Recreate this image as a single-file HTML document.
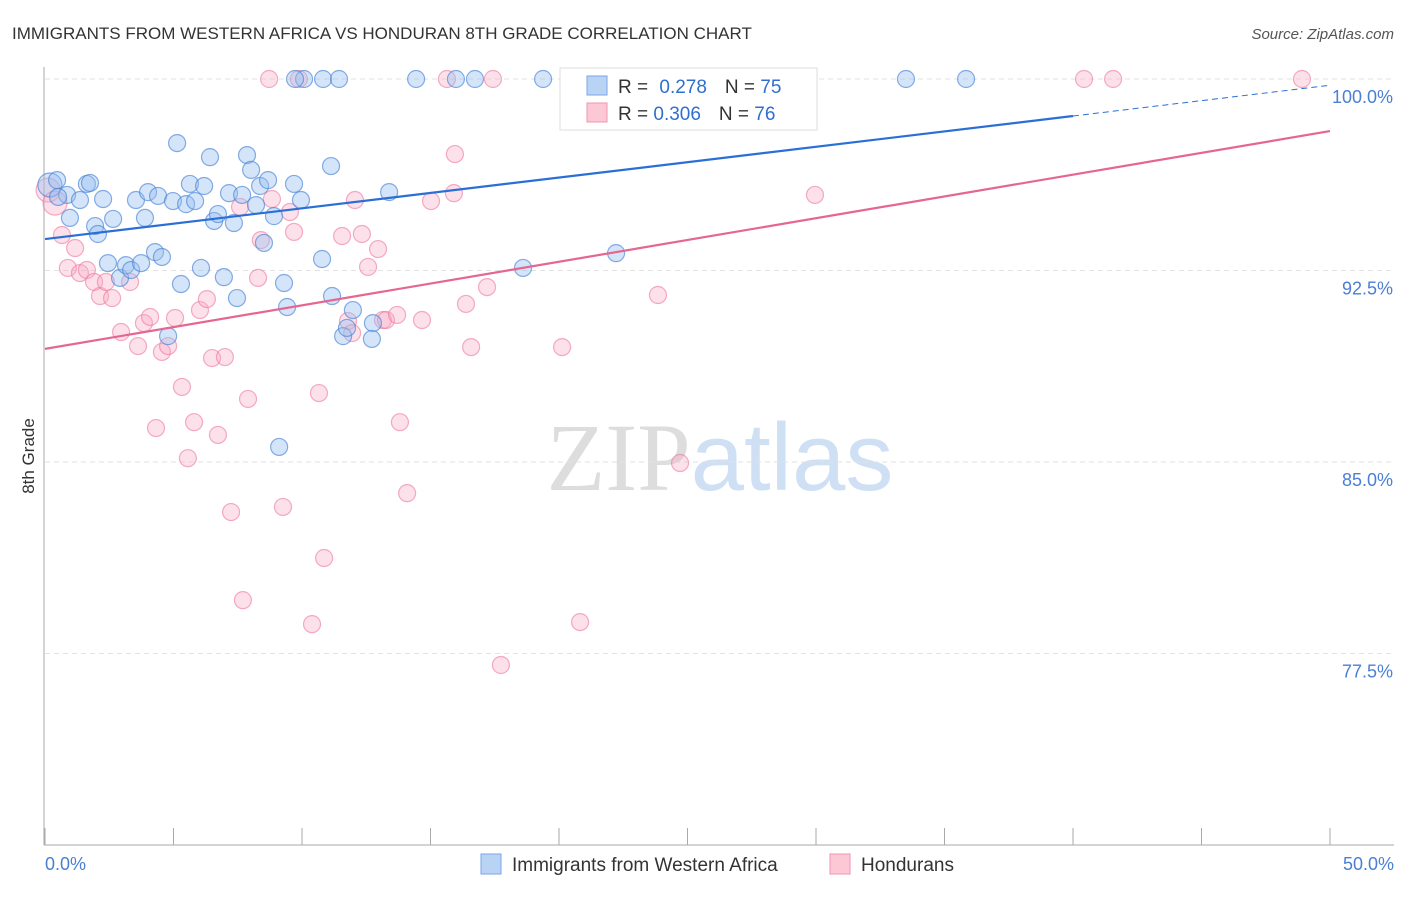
<!DOCTYPE html>
<html><head><meta charset="utf-8"><style>
body{margin:0;background:#fff;font-family:"Liberation Sans",sans-serif;}
svg text{font-family:"Liberation Sans",sans-serif;}
</style></head><body>
<svg id="chart" width="1406" height="892" xmlns="http://www.w3.org/2000/svg">
<text x="12" y="39" font-size="17" fill="#333">IMMIGRANTS FROM WESTERN AFRICA VS HONDURAN 8TH GRADE CORRELATION CHART</text>
<text x="1394" y="39" font-size="15" fill="#555" text-anchor="end" font-style="italic">Source: ZipAtlas.com</text>
<text x="720" y="490" font-size="96" text-anchor="middle"><tspan fill="#ddd" font-family="Liberation Serif">ZIP</tspan><tspan fill="#cfe0f5">atlas</tspan></text>
<g id="grid"></g>
<g id="axes"></g>
<g id="pinkpts"></g>
<g id="bluepts"></g>
<g id="lines"></g>
<text transform="translate(34,456) rotate(-90)" font-size="17" fill="#333" text-anchor="middle">8th Grade</text>
<g>
<rect x="560" y="68" width="257" height="62" fill="#fff" stroke="#ddd"/>
<rect x="587" y="76" width="20" height="19" fill="#b9d3f5" stroke="#7aa6e6"/>
<rect x="587" y="103" width="20" height="19" fill="#fcc8d6" stroke="#f094b0"/>
<text x="618" y="93" font-size="19" fill="#333">R = <tspan fill="#2f6fd0" dx="6">0.278</tspan><tspan fill="#333" dx="18">N = </tspan><tspan fill="#2f6fd0">75</tspan></text>
<text x="618" y="120" font-size="19" fill="#333">R = <tspan fill="#2f6fd0">0.306</tspan><tspan fill="#333" dx="18">N = </tspan><tspan fill="#2f6fd0">76</tspan></text>
</g>
<g>
<rect x="481" y="854" width="20" height="20" fill="#b9d3f5" stroke="#7aa6e6"/>
<text x="512" y="871" font-size="19" fill="#333">Immigrants from Western Africa</text>
<rect x="830" y="854" width="20" height="20" fill="#fcc8d6" stroke="#f094b0"/>
<text x="861" y="871" font-size="19" fill="#333">Hondurans</text>
</g>
</svg>
<script>
const yTicks=[100,92.5,85,77.5];
const yTickLabels=["100.0%","92.5%","85.0%","77.5%"];
const xTickLabels=["0.0%","50.0%"];
const blueX=[0.19,0.47,0.86,0.51,0.97,1.36,1.63,1.75,1.95,2.06,2.26,2.65,2.45,2.92,3.15,3.35,3.54,3.74,3.89,4.01,4.28,4.40,4.55,4.79,4.98,5.14,5.29,5.49,5.64,5.84,6.07,6.19,6.42,6.58,6.73,6.96,7.16,7.35,7.47,7.67,7.86,8.02,8.21,8.37,8.52,8.68,8.91,9.11,9.30,9.42,9.69,9.96,10.08,10.78,11.13,11.17,11.60,11.98,11.75,12.76,12.72,13.39,14.44,15.99,16.73,18.60,19.38,22.22,33.50,35.84,10.82,11.44,9.73];
const blueY=[95.85,96.04,95.46,95.38,94.56,95.26,95.89,95.93,94.24,93.93,95.30,94.52,92.79,92.21,92.71,92.52,95.26,92.79,94.56,95.57,93.22,95.42,93.03,89.93,95.22,97.49,91.97,95.10,95.89,95.22,92.60,95.81,96.94,94.44,94.71,92.24,95.53,94.36,91.42,95.46,97.02,96.44,95.06,95.81,93.58,96.04,94.63,85.59,92.01,91.07,95.89,95.26,100,92.95,96.59,91.50,89.93,90.95,90.25,90.44,89.82,95.57,100,100,100,92.60,100,93.18,100,100,100,100,100];
const pinkX=[0.12,0.39,0.66,0.89,1.17,1.36,1.63,1.91,2.14,2.37,2.61,2.96,3.31,3.62,3.85,4.09,4.32,4.55,4.79,5.06,5.33,5.56,5.80,6.03,6.30,6.50,6.73,7.00,7.24,7.59,7.70,7.90,8.29,8.40,8.83,9.26,9.53,9.69,10.39,10.66,10.86,11.56,11.79,12.06,12.33,12.57,12.96,13.15,13.27,13.70,13.81,14.09,14.67,15.02,15.91,15.95,16.38,16.58,17.20,17.74,20.12,20.82,23.85,24.71,29.96,8.72,9.88,15.64,17.43,40.43,41.56,48.91,11.95];
const pinkY=[95.65,95.14,93.89,92.60,93.38,92.40,92.52,92.05,91.50,92.05,91.42,90.09,92.05,89.54,90.44,90.68,86.33,89.31,89.54,90.64,87.94,85.15,86.56,90.95,91.38,89.07,86.06,89.11,83.04,94.99,79.59,87.47,92.21,93.69,95.30,83.24,94.79,94.01,78.65,87.70,81.24,93.85,90.52,95.26,93.93,92.64,93.34,90.56,90.56,90.76,86.56,83.78,90.56,95.22,95.53,97.06,91.19,89.50,91.85,77.05,89.50,78.73,91.54,84.96,95.46,100,100,100,100,100,100,100,90.05];
const blueTrend=[93.73,0.1205];
const pinkTrend=[89.43,0.1706];
const NS="http://www.w3.org/2000/svg";
const sx=v=>45+v/50*1285;
const sy=v=>79+(100-v)/7.5*191.5;
function mk(tag,attrs,parent){const e=document.createElementNS(NS,tag);for(const k in attrs)e.setAttribute(k,attrs[k]);parent.appendChild(e);return e;}
const grid=document.getElementById('grid'),axes=document.getElementById('axes');
yTicks.forEach((t,i)=>{
 const l=mk('line',{x1:45,x2:1394,y1:sy(t),y2:sy(t),stroke:'#e2e2e2','stroke-dasharray':'5,4'},grid);
 
 
 const tx=mk('text',{x:1393,y:sy(t)+24,'font-size':18,fill:'#4a7fd4','text-anchor':'end'},axes);
 tx.textContent=yTickLabels[i];
 
 
});
const ya=mk('line',{x1:44,x2:44,y1:67,y2:845,stroke:'#aaa'},axes);


const xa=mk('line',{x1:44,x2:1394,y1:845,y2:845,stroke:'#aaa'},axes);


for(let v=0;v<=50;v+=5){
 const tk=mk('line',{x1:sx(v),x2:sx(v),y1:828,y2:845,stroke:'#aaa'},axes);
 
 
}
[[0,'start',45],[50,'end',1394]].forEach((a,i)=>{
 const tx=mk('text',{x:a[2],y:870,'font-size':18,fill:'#4a7fd4','text-anchor':a[1]},axes);
 tx.textContent=xTickLabels[i];
 
 
});
const pg=document.getElementById('pinkpts'),bg=document.getElementById('bluepts');
pinkX.forEach((x,i)=>{
 const c=mk('circle',{cx:sx(x),cy:sy(pinkY[i]),r:i<2?12:8.5,fill:'rgba(248,170,195,0.35)',stroke:'rgba(236,120,155,0.6)','stroke-width':1.2},pg);
 
 
});
blueX.forEach((x,i)=>{
 const c=mk('circle',{cx:sx(x),cy:sy(blueY[i]),r:i==0?12:8.5,fill:'rgba(150,190,240,0.4)',stroke:'rgba(70,130,215,0.65)','stroke-width':1.2},bg);
 
 
});
const lg=document.getElementById('lines');
const b1=mk('line',{x1:sx(0),y1:sy(blueTrend[0]),x2:sx(40),y2:sy(blueTrend[0]+blueTrend[1]*40),stroke:'#2a6fd6','stroke-width':2.2},lg);


const b2=mk('line',{x1:sx(40),y1:sy(blueTrend[0]+blueTrend[1]*40),x2:sx(50),y2:sy(blueTrend[0]+blueTrend[1]*50),stroke:'#2a6fd6','stroke-width':1,'stroke-dasharray':'6,4'},lg);


const p1=mk('line',{x1:sx(0),y1:sy(pinkTrend[0]),x2:sx(50),y2:sy(pinkTrend[0]+pinkTrend[1]*50),stroke:'#e5668f','stroke-width':2.2},lg);


</script>
</body></html>
